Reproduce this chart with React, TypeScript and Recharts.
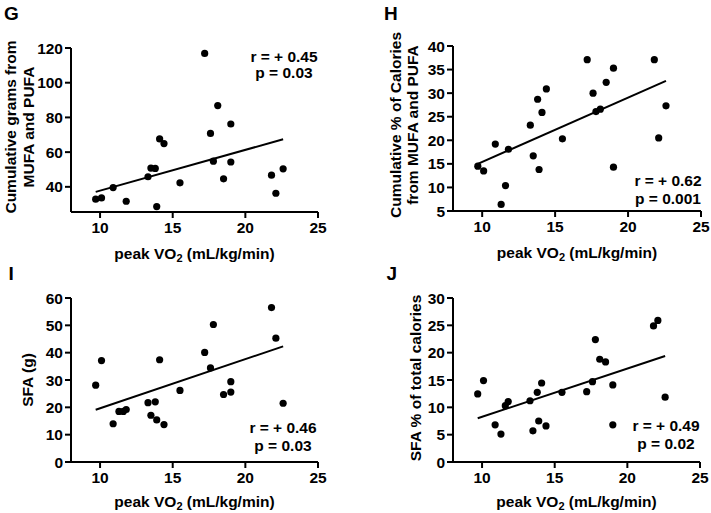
import { ScatterChart, Scatter, XAxis, YAxis, ReferenceLine } from 'recharts'

// peak VO2 of each subject (mL/kg/min), shared by all four panels
const peakVO2 = [9.7, 10.1, 10.9, 11.3, 11.6, 11.8, 13.3, 13.5, 13.8, 13.9, 14.1, 14.4, 15.5, 17.2, 17.6, 17.8, 18.1, 18.5, 19.0, 19.0, 21.8, 22.1, 22.6]

// y values per panel (null = point not visible in the figure)
const gramsMufaPufa = [32.9, 33.6, 39.6, null, null, 31.7, 45.8, 50.8, 50.6, 28.6, 67.6, 64.9, 42.3, 116.9, 70.8, 54.8, 86.8, 44.6, 76.2, 54.3, 46.7, 36.3, 50.4]
const pctCaloriesMufaPufa = [14.5, 13.5, 19.2, 6.4, 10.4, 18.1, 23.2, 16.7, 28.7, 13.8, 25.9, 30.9, 20.3, 37.1, 30.0, 26.1, 26.6, 32.3, 35.3, 14.3, 37.1, 20.5, 27.3]
const sfaGrams = [28.1, 37.1, 14.0, 18.5, 18.5, 19.2, 21.7, 17.1, 22.0, 15.4, 37.4, 13.7, 26.2, 40.1, 34.4, 50.3, null, 24.7, 29.4, 25.6, 56.5, 45.3, 21.5]
const sfaPctCalories = [12.45, 14.9, 6.8, 5.1, 10.3, 11.05, 11.2, 5.7, 12.75, 7.5, 14.45, 6.6, 12.75, 12.87, 14.7, 22.4, 18.8, 18.3, 14.1, 6.8, 24.9, 25.9, 11.85]

// regression lines: y at the two ends
const fitX = [9.7, 22.6]
const fitG = [37.1, 67.4]
const fitH = [15.0, 32.6]
const fitI = [19.1, 42.3]
const fitJ = [8.0, 19.4]

const xTicks = [10, 15, 20, 25]
const ticksG = [40, 60, 80, 100, 120]
const ticksH = [5, 10, 15, 20, 25, 30, 35, 40]
const ticksI = [0, 10, 20, 30, 40, 50, 60]
const ticksJ = [0, 5, 10, 15, 20, 25, 30]

const FONT = '"Liberation Sans", Arial, Helvetica, sans-serif'

interface PanelProps {
  letter: string
  letterPos: [number, number]
  values: (number | null)[]
  fit: number[]
  yDomain: [number, number]
  yTicks: number[]
  yLabel: string[]
  yLabelX: number[]
  yLabelY: number
  xLabelOffset: number
  stats: string[]
  statsPos: [number, number, number]
  left: number
  top: number
  width: number
  height: number
  marginTop: number
  marginRight: number
  yAxisWidth: number
  xAxisHeight: number
}

const Dot = (props: any) => <circle cx={props.cx} cy={props.cy} r={3.6} fill="#000" />

function Panel(p: PanelProps) {
  const data = peakVO2
    .map((x, i) => ({ x, y: p.values[i] }))
    .filter(d => d.y !== null)

  const xLabel = (props: any) => {
    const vb = props.viewBox
    return (
      <text x={vb.x + vb.width / 2} y={vb.y + p.xLabelOffset} textAnchor="middle" fill="#000" fontSize={15.5} fontWeight={700} fontFamily={FONT}>
        peak VO<tspan fontSize={11} dy={3}>2</tspan><tspan dy={-3}> (mL/kg/min)</tspan>
      </text>
    )
  }

  const yLabel = () => (
    <g>
      {p.yLabel.map((line, i) => (
        <text
          key={i}
          x={p.yLabelX[i]}
          y={p.yLabelY}
          transform={`rotate(-90, ${p.yLabelX[i]}, ${p.yLabelY})`}
          textAnchor="middle"
          dominantBaseline="central"
          fill="#000"
          fontSize={15.5}
          fontWeight={700}
          fontFamily={FONT}
        >
          {line}
        </text>
      ))}
    </g>
  )

  const axisStyle = { stroke: '#000', strokeWidth: 2 }
  const tickStyle = { fill: '#000', fontSize: 15.5, fontWeight: 700, fontFamily: FONT }

  return (
    <div style={{ position: 'absolute', left: p.left, top: p.top, width: p.width, height: p.height }}>
      <ScatterChart width={p.width} height={p.height} margin={{ top: p.marginTop, right: p.marginRight, left: 0, bottom: 0 }}>
        <XAxis
          type="number"
          dataKey="x"
          domain={[8, 25]}
          ticks={xTicks}
          allowDataOverflow
          height={p.xAxisHeight}
          axisLine={axisStyle}
          tickLine={axisStyle}
          tickSize={6}
          tickMargin={4}
          tick={tickStyle}
          label={{ content: xLabel }}
        />
        <YAxis
          type="number"
          dataKey="y"
          domain={p.yDomain}
          ticks={p.yTicks}
          allowDataOverflow
          width={p.yAxisWidth}
          axisLine={axisStyle}
          tickLine={axisStyle}
          tickSize={6}
          tickMargin={2}
          tick={tickStyle}
          label={{ content: yLabel }}
        />
        <ReferenceLine
          segment={[{ x: fitX[0], y: p.fit[0] }, { x: fitX[1], y: p.fit[1] }]}
          stroke="#000"
          strokeWidth={2}
        />
        <Scatter data={data} shape={Dot} isAnimationActive={false} />
      </ScatterChart>
      <svg width={p.width} height={p.height} style={{ position: 'absolute', left: 0, top: 0, pointerEvents: 'none' }}>
        <text x={p.letterPos[0]} y={p.letterPos[1]} fill="#000" fontSize={19} fontWeight={700} fontFamily={FONT}>
          {p.letter}
        </text>
        {p.stats.map((s, i) => (
          <text key={i} x={p.statsPos[0]} y={i === 0 ? p.statsPos[1] : p.statsPos[2]} textAnchor="middle" fill="#000" fontSize={15.5} fontWeight={700} fontFamily={FONT}>
            {s}
          </text>
        ))}
      </svg>
    </div>
  )
}

export default function App() {
  return (
    <div style={{ position: 'absolute', left: 0, top: 0, width: 711, height: 513, background: '#fff', fontFamily: FONT }}>
      {/* G */}
      <Panel
        letter="G" letterPos={[4, 20]}
        values={gramsMufaPufa} fit={fitG} yDomain={[25.5, 120]} yTicks={ticksG}
        yLabel={['Cumulative grams from', 'MUFA and PUFA']} yLabelX={[10, 28]} yLabelY={127}
        xLabelOffset={47}
        stats={['r = + 0.45', 'p = 0.03']} statsPos={[284, 62, 78]}
        left={0} top={0} width={355} height={266}
        marginTop={48} marginRight={37} yAxisWidth={71} xAxisHeight={54}
      />
      {/* H */}
      <Panel
        letter="H" letterPos={[29, 20]}
        values={pctCaloriesMufaPufa} fit={fitH} yDomain={[5, 40]} yTicks={ticksH}
        yLabel={['Cumulative % of Calories', 'from MUFA and PUFA']} yLabelX={[40, 57]} yLabelY={125}
        xLabelOffset={47}
        stats={['r = + 0.62', 'p = 0.001']} statsPos={[313, 186, 204]}
        left={355} top={0} width={356} height={266}
        marginTop={46} marginRight={10} yAxisWidth={98} xAxisHeight={55}
      />
      {/* I */}
      <Panel
        letter="I" letterPos={[8.5, 24]}
        values={sfaGrams} fit={fitI} yDomain={[0, 60]} yTicks={ticksI}
        yLabel={['SFA (g)']} yLabelX={[27.5]} yLabelY={124}
        xLabelOffset={45}
        stats={['r = + 0.46', 'p = 0.03']} statsPos={[283, 176.5, 195]}
        left={0} top={256} width={355} height={257}
        marginTop={42} marginRight={37} yAxisWidth={71} xAxisHeight={51}
      />
      {/* J */}
      <Panel
        letter="J" letterPos={[31.5, 24]}
        values={sfaPctCalories} fit={fitJ} yDomain={[0, 30]} yTicks={ticksJ}
        yLabel={['SFA % of total calories']} yLabelX={[60.5]} yLabelY={122}
        xLabelOffset={45}
        stats={['r = + 0.49', 'p = 0.02']} statsPos={[311, 175, 193]}
        left={355} top={256} width={356} height={257}
        marginTop={42} marginRight={11} yAxisWidth={98} xAxisHeight={51}
      />
    </div>
  )
}
